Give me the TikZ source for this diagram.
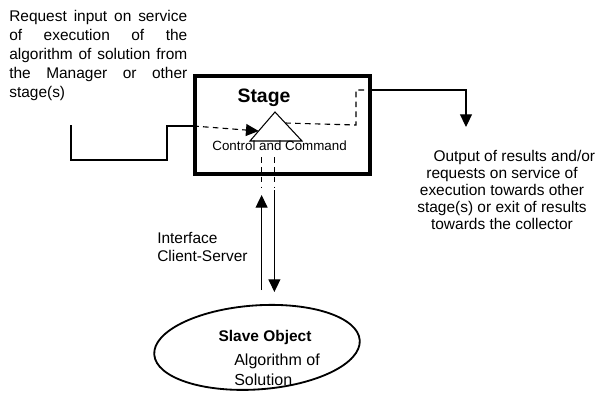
\documentclass[tikz,border=0pt]{standalone}
\usepackage{fontspec}
\setmainfont{Liberation Sans}
\usepackage{tikz}
\usetikzlibrary{shapes,arrows.meta,positioning,calc}

\begin{document}
\begin{tikzpicture}[
    stagebox/.style={rectangle, draw=black, line width=2.6pt,
        minimum width=4.375cm, minimum height=2.45cm},
    slave/.style={ellipse, draw=black, line width=1.3pt,
        minimum width=5.15cm, minimum height=2.1cm},
    txt/.style={inner sep=0pt, font=\fontsize{11}{13.5}\selectfont},
    line/.style={draw, line width=0.75pt, -{Triangle[length=9pt,width=8.5pt]}},
    plain/.style={draw, line width=0.75pt},
    dashline/.style={draw, line width=0.8pt, dash pattern=on 4pt off 3pt}
]
    \useasboundingbox (0,0) rectangle (14.975,9.95);

    \node[stagebox] (stage) at (7.0625,6.825) {};
    \coordinate (apex) at (6.875,7.15);
    \coordinate (bl) at (6.25,6.425);
    \coordinate (br) at (7.55,6.425);
    \draw[line width=0.75pt] (bl) -- (apex) -- (br) -- cycle;
    \node[inner sep=0pt, font=\bfseries\fontsize{13.8}{16}\selectfont] (title) at (6.6,7.5) {Stage};
    \node[inner sep=0pt, font=\fontsize{9.5}{11}\selectfont] (cc) at (6.99,6.31) {Control and Command};

    \node[txt, text width=4.45cm, anchor=north west, align=left] (request) at (0.225,9.7) {%
        \makebox[4.45cm]{Request\hfill input\hfill on\hfill service}\\
        \makebox[4.45cm]{of\hfill execution\hfill of\hfill the}\\
        \makebox[4.45cm]{algorithm\hfill of\hfill solution\hfill from}\\
        \makebox[4.45cm]{the\hfill Manager\hfill or\hfill other}\\
        stage(s)};

    \node[txt, font=\fontsize{11}{12.2}\selectfont, align=center] (output) at (12.55,5.2) {%
        \hspace*{17.5pt}Output of results and/or\\
        requests on service of\\
        execution towards other\\
        stage(s) or exit of results\\
        towards the collector};

    \node[inner sep=0pt, font=\fontsize{11}{12.8}\selectfont, align=left, anchor=west] (iface) at (3.925,3.775) {Interface\\Client-Server};

    \node[slave, rotate=4] (slaveobj) at (6.425,1.265) {};
    \node[inner sep=0pt, font=\bfseries\fontsize{11}{13}\selectfont] (sotitle) at (6.625,1.525) {Slave Object};
    \node[inner sep=0pt, font=\fontsize{11.4}{14}\selectfont, align=left, anchor=west] (algo) at (5.85,0.7) {Algorithm of\\Solution};

    % input from manager
    \coordinate (inA) at (1.775,6.825);
    \coordinate (inlow) at (1.775,5.95);
    \coordinate (inB) at (4.175,6.8);
    \coordinate (intip) at ($(bl)!0.345!(apex)$);
    \path[plain] (inA) -- (inlow) -| (inB) -- (inB -| stage.west);
    \path[line, dashline] (inB -| stage.west) -- (intip);

    % output of results
    \coordinate (outA) at ($(br)!0.62!(apex)$);
    \coordinate (outB) at (8.9,6.825);
    \coordinate (outC) at (8.9,7.7);
    \coordinate (outD) at (11.65,6.775);
    \path[dashline] (outA) -- (outB) -- (outC) -- (outC -| stage.east);
    \path[line] (outC -| stage.east) -| (outD);

    % client-server interface
    \coordinate (cl) at (6.54,6.025);
    \coordinate (cllow) at (6.54,5.25);
    \coordinate (cr) at (6.86,6.025);
    \coordinate (crlow) at (6.86,5.25);
    \path[dashline] (cl) -- (cllow);
    \path[dashline] (cr) -- (crlow);
    \coordinate (upfrom) at (6.54,2.7);
    \coordinate (upto) at (6.54,5.075);
    \coordinate (downfrom) at (6.86,5.2);
    \coordinate (downto) at (6.86,2.65);
    \path[line] (upfrom) -- (upto);
    \path[line] (downfrom) -- (downto);
\end{tikzpicture}
\end{document}
